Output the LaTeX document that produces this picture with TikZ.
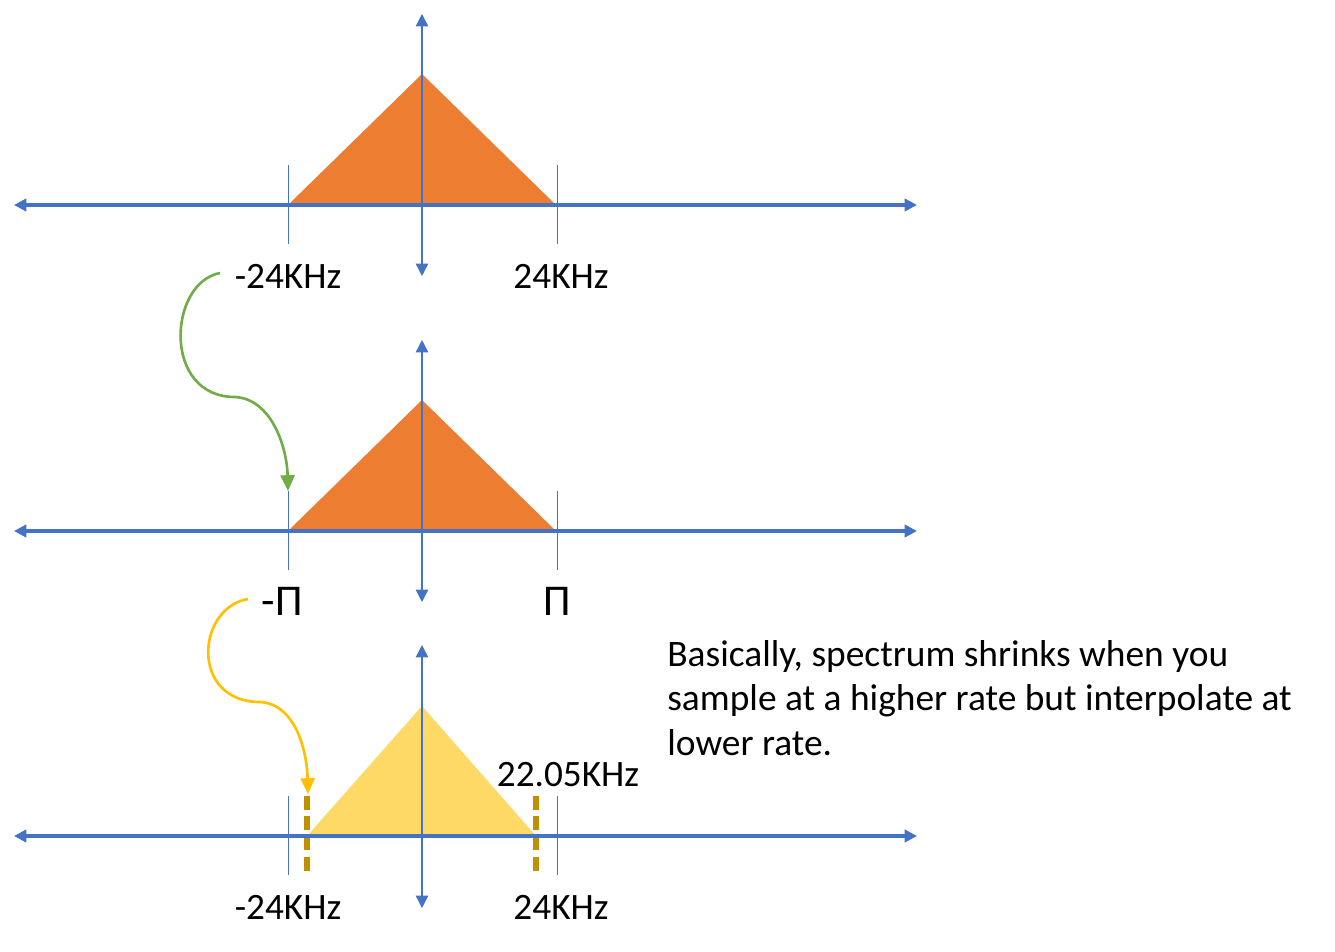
\documentclass[tikz,border=0pt]{standalone}
\usepackage{fontspec}
\setmainfont{Carlito}
\usetikzlibrary{arrows.meta}
\definecolor{axisblue}{HTML}{4472C4}
\definecolor{triorange}{HTML}{ED7D31}
\definecolor{triyellow}{HTML}{FFD966}
\definecolor{dashgold}{HTML}{BF9000}
\definecolor{arrgreen}{HTML}{70AD47}
\definecolor{arryellow}{HTML}{FFC000}
\tikzset{
  haxis/.style={draw=axisblue, line width=1.9pt, {Triangle[length=7pt,width=7pt]}-{Triangle[length=7pt,width=7pt]}},
  vaxis/.style={draw=axisblue, line width=0.8pt, {Triangle[length=7pt,width=7pt]}-{Triangle[length=7pt,width=7pt]}},
  tickline/.style={draw=axisblue, line width=0.45pt},
  lbl/.style={font=\fontsize{21.2}{25}\selectfont, inner sep=0pt, text=black},
  pilbl/.style={font=\fontsize{25}{28}\selectfont, inner sep=0pt, text=black},
  curvearrow/.style={line width=1.5pt, -{Triangle[length=9pt,width=8pt]}},
  golddash/.style={draw=dashgold, line width=3.3pt, dash pattern=on 8pt off 3.5pt},
}
\begin{document}
\begin{tikzpicture}[x=0.02cm, y=-0.02cm]
\useasboundingbox (0,0) rectangle (1335,952);
% ---------- panel 1 ----------
\coordinate (h1l) at (14,205); \coordinate (h1r) at (917,205);
\coordinate (v1t) at (422,14); \coordinate (v1b) at (422,276);
\coordinate (t1a) at (288,165); \coordinate (t1b) at (288,244);
\coordinate (t1c) at (557,165); \coordinate (t1d) at (557,244);
\fill[triorange] (288,205) -- (422,74) -- (556,205) -- cycle;
\draw[tickline] (t1a) -- (t1b);
\draw[tickline] (t1c) -- (t1d);
\draw[haxis] (h1l) -- (h1r);
\draw[vaxis] (v1b) -- (v1t);
\node[lbl] (l1a) at (288,276) {-24KHz};
\node[lbl] (l1b) at (561,276) {24KHz};
% ---------- panel 2 ----------
\coordinate (h2l) at (14,531); \coordinate (h2r) at (917,531);
\coordinate (v2t) at (422,340); \coordinate (v2b) at (422,602);
\coordinate (t2a) at (288,491); \coordinate (t2b) at (288,570);
\coordinate (t2c) at (557,491); \coordinate (t2d) at (557,570);
\fill[triorange] (288,531) -- (422,400) -- (556,531) -- cycle;
\draw[tickline] (t2a) -- (t2b);
\draw[tickline] (t2c) -- (t2d);
\draw[haxis] (h2l) -- (h2r);
\draw[vaxis] (v2b) -- (v2t);
\node[pilbl] (l2a) at (282,601) {-Π};
\node[pilbl] (l2b) at (557,601) {Π};
% ---------- panel 3 ----------
\coordinate (h3l) at (14,836); \coordinate (h3r) at (917,836);
\coordinate (v3t) at (422,645); \coordinate (v3b) at (422,908);
\coordinate (t3a) at (288,796); \coordinate (t3b) at (288,875);
\coordinate (t3c) at (557,796); \coordinate (t3d) at (557,875);
\coordinate (d3a) at (307,796); \coordinate (d3b) at (307,876);
\coordinate (d3c) at (536,796); \coordinate (d3d) at (536,876);
\fill[triyellow] (307,836) -- (422,706) -- (536,836) -- cycle;
\draw[tickline] (t3a) -- (t3b);
\draw[tickline] (t3c) -- (t3d);
\draw[golddash] (d3a) -- (d3b);
\draw[golddash] (d3c) -- (d3d);
\draw[haxis] (h3l) -- (h3r);
\draw[vaxis] (v3b) -- (v3t);
\node[lbl] (l3a) at (288,907) {-24KHz};
\node[lbl] (l3b) at (561,907) {24KHz};
\node[lbl] (l3c) at (568,775) {22.05KHz};
% ---------- curved arrows ----------
\coordinate (g0) at (220,273);
\draw[curvearrow, arrgreen] (g0) .. controls (168,283) and (162,397) .. (235,397) .. controls (272,399) and (287,448) .. (t2a);
\coordinate (y0) at (248,599);
\coordinate (yend) at (308,794);
\draw[curvearrow, arryellow] (y0) .. controls (196,608) and (190,702) .. (260,702) .. controls (296,704) and (307,752) .. (yend);
% ---------- text ----------
\node[lbl, anchor=west, align=left, font=\fontsize{21.3}{25.5}\selectfont] (note) at (667,698)
  {Basically, spectrum shrinks when you\\sample at a higher rate but interpolate at\\lower rate.};
\end{tikzpicture}
\end{document}
